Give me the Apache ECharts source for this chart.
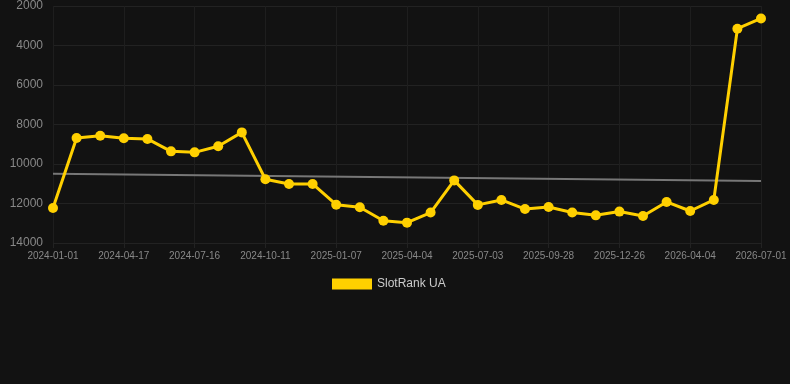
<!DOCTYPE html>
<html>
<head>
<meta charset="utf-8">
<script src="https://cdn.jsdelivr.net/npm/echarts@6/dist/echarts.min.js"></script>
<style>
html,body{margin:0;padding:0;background:#121212;}
#chart{width:790px;height:384px;}
</style>
</head>
<body>
<div id="chart"></div>
<script>
const categories = [
  '2024-01-01','2024-02-06','2024-03-12','2024-04-17','2024-05-17','2024-06-16',
  '2024-07-16','2024-08-14','2024-09-12','2024-10-11','2024-11-09','2024-12-09',
  '2025-01-07','2025-02-05','2025-03-06','2025-04-04','2025-05-04','2025-06-03',
  '2025-07-03','2025-08-01','2025-08-30','2025-09-28','2025-10-28','2025-11-26',
  '2025-12-26','2026-01-28','2026-03-02','2026-04-04','2026-05-03','2026-06-01',
  '2026-07-01'
];
const rankValues = [
  12230, 8680, 8570, 8700, 8730, 9360, 9410, 9100, 8400, 10770, 11010,
  11010, 12060, 12190, 12870, 12970, 12460, 10830, 12070, 11820, 12280,
  12180, 12460, 12600, 12410, 12630, 11920, 12380, 11820, 3150, 2630
];
const trendStart = 10490;
const trendEnd = 10860;
const yTicks = { min: 2000, max: 14000, interval: 2000 };
const seriesName = 'SlotRank UA';

const chart = echarts.init(document.getElementById('chart'), null, {renderer: 'canvas'});
chart.setOption({
  backgroundColor: '#121212',
  animation: false,
  grid: { left: 53, right: 29, top: 6, bottom: 141, containLabel: false },
  legend: {
    data: [seriesName],
    bottom: 94,
    left: 332,
    itemWidth: 40,
    itemHeight: 11,
    itemGap: 6,
    icon: 'rect',
    textStyle: { color: '#cccccc', fontSize: 12, fontFamily: 'Liberation Sans, Arial, sans-serif', lineHeight: 12 },
    padding: 0
  },
  xAxis: {
    type: 'category',
    data: categories,
    boundaryGap: false,
    axisLine: { show: false },
    axisTick: { show: true, interval: 2, length: 5, lineStyle: { color: '#222222' } },
    axisLabel: { interval: 2, color: '#888888', fontSize: 10, margin: 8, fontFamily: 'Liberation Sans, Arial, sans-serif' },
    splitLine: { show: true, interval: 2, lineStyle: { color: '#1e1e1e', width: 1 } }
  },
  yAxis: {
    type: 'value',
    inverse: true,
    min: yTicks.min,
    max: yTicks.max,
    interval: yTicks.interval,
    axisLine: { show: false },
    axisTick: { show: false },
    axisLabel: { color: '#888888', fontSize: 12, margin: 10, fontFamily: 'Liberation Sans, Arial, sans-serif',
      formatter: function (v) { return String(v); } },
    splitLine: { show: true, lineStyle: { color: '#222222', width: 1 } }
  },
  series: [
    {
      name: seriesName,
      type: 'line',
      data: rankValues,
      color: '#ffd000',
      lineStyle: { width: 3, color: '#ffd000' },
      symbol: 'circle',
      symbolSize: 10,
      itemStyle: { color: '#ffd000' },
      z: 3
    },
    {
      name: 'trend',
      type: 'line',
      data: [[categories[0], trendStart], [categories[categories.length - 1], trendEnd]],
      symbol: 'none',
      lineStyle: { width: 2, color: '#777777' },
      silent: true,
      z: 2
    }
  ]
});
</script>
</body>
</html>
